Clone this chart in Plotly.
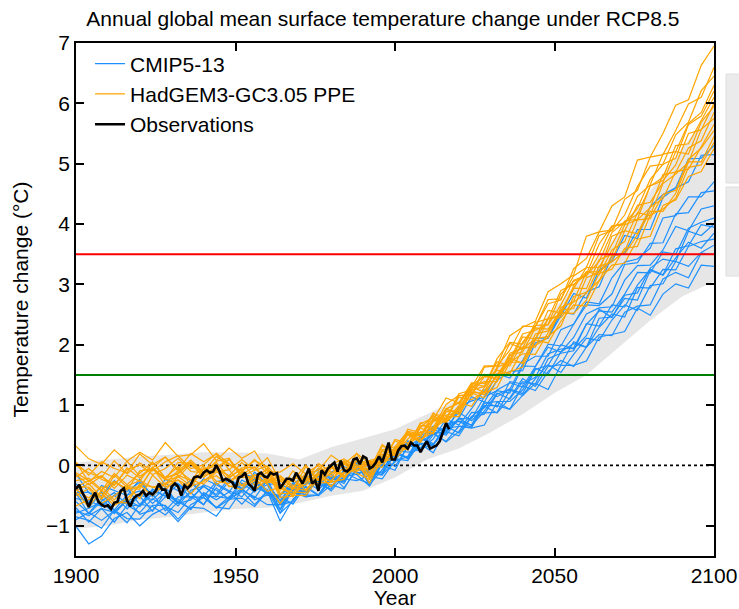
import plotly.graph_objects as go

# ---------------- data ----------------
ens_years = list(range(1900, 2101, 4))
obs_years = list(range(1900, 2018))
env_years = list(range(1900, 2101, 10))

cmip_runs = [
    [-0.38, -0.70, -0.44, -0.74, -0.49, -0.42, -0.63, -0.45, -0.63, -0.28, -0.50, -0.52, -0.26, -0.40, -0.27, -0.49, -0.49, -0.29, -0.43, -0.25, -0.36, -0.08, 0.01, -0.29, 0.16, 0.07, 0.15, 0.51, 0.55, 0.53, 0.97, 1.07, 1.13, 1.52, 1.45, 1.74, 2.11, 2.11, 2.48, 2.85, 2.77, 3.24, 3.38, 3.81, 3.76, 4.29, 4.49, 4.60, 5.08, 5.09, 5.30],
    [-0.90, -0.78, -0.91, -0.75, -0.95, -0.64, -0.68, -0.82, -0.60, -0.72, -0.47, -0.71, -0.56, -0.43, -0.65, -0.42, -0.79, -0.39, -0.49, -0.49, -0.20, -0.30, 0.05, -0.32, -0.07, 0.21, 0.12, 0.45, 0.65, 0.58, 0.78, 1.14, 1.05, 1.41, 1.56, 1.57, 2.03, 2.11, 2.54, 2.51, 2.88, 2.96, 3.47, 3.52, 3.91, 3.91, 4.44, 4.60, 4.70, 5.14, 5.15],
    [-0.30, -0.62, -0.33, -0.41, -0.50, -0.23, -0.52, -0.30, -0.42, -0.24, -0.51, -0.27, -0.22, -0.40, -0.11, -0.31, -0.58, -0.31, -0.15, -0.35, -0.11, -0.02, -0.12, -0.11, -0.11, 0.29, 0.35, 0.26, 0.44, 0.77, 0.67, 0.94, 1.25, 1.14, 1.26, 1.68, 1.81, 1.81, 2.25, 2.34, 2.71, 2.68, 3.11, 3.37, 3.42, 3.60, 4.10, 4.14, 4.45, 4.45, 4.70],
    [-0.79, -0.71, -0.60, -0.80, -0.57, -0.68, -0.47, -0.75, -0.52, -0.52, -0.65, -0.37, -0.57, -0.40, -0.54, -0.24, -0.65, -0.60, -0.30, -0.26, -0.42, -0.17, -0.15, -0.07, -0.13, 0.18, 0.37, 0.23, 0.64, 0.55, 0.78, 0.77, 1.14, 1.24, 1.20, 1.65, 1.64, 2.01, 1.98, 2.34, 2.66, 2.65, 2.84, 3.33, 3.36, 3.68, 3.69, 4.17, 4.19, 4.52, 4.55],
    [-0.14, -0.45, -0.51, -0.25, -0.43, -0.28, -0.51, -0.23, -0.30, -0.46, -0.22, -0.32, -0.44, -0.14, -0.19, -0.31, -0.31, -0.42, -0.25, -0.05, -0.23, -0.25, 0.11, -0.17, 0.13, -0.02, 0.31, 0.45, 0.34, 0.63, 0.88, 0.74, 0.96, 1.25, 1.37, 1.30, 1.64, 1.96, 1.88, 2.12, 2.51, 2.61, 2.63, 3.07, 3.31, 3.32, 3.57, 3.96, 3.89, 4.25, 4.30],
    [-1.01, -1.30, -1.17, -0.88, -0.78, -1.00, -0.81, -0.70, -0.93, -0.69, -0.71, -0.84, -0.56, -0.54, -0.68, -0.43, -0.92, -0.56, -0.36, -0.50, -0.32, -0.39, -0.03, -0.18, -0.22, 0.09, 0.39, 0.28, 0.34, 0.69, 0.74, 0.67, 1.06, 0.97, 1.39, 1.35, 1.46, 1.85, 1.93, 1.95, 2.34, 2.56, 2.54, 2.84, 3.20, 3.19, 3.54, 3.50, 3.93, 4.03, 4.10],
    [-0.60, -0.79, -0.54, -0.76, -0.59, -0.51, -0.76, -0.43, -0.60, -0.45, -0.65, -0.30, -0.42, -0.52, -0.27, -0.40, -0.72, -0.30, -0.46, -0.24, -0.14, -0.37, -0.07, -0.11, -0.15, 0.06, 0.41, 0.23, 0.51, 0.65, 0.54, 0.81, 0.85, 1.18, 1.27, 1.19, 1.59, 1.66, 2.00, 1.93, 2.15, 2.59, 2.45, 2.82, 2.86, 3.27, 3.42, 3.38, 3.88, 3.81, 4.00],
    [-0.45, -0.44, -0.64, -0.50, -0.38, -0.65, -0.39, -0.51, -0.31, -0.54, -0.35, -0.48, -0.21, -0.38, -0.22, -0.46, -0.50, -0.31, -0.45, -0.10, -0.27, -0.26, 0.07, -0.13, -0.16, 0.25, 0.22, 0.26, 0.60, 0.50, 0.78, 0.66, 0.90, 1.20, 1.10, 1.39, 1.35, 1.77, 1.86, 1.90, 2.35, 2.31, 2.66, 2.63, 2.99, 3.25, 3.16, 3.59, 3.64, 3.99, 3.95],
    [-0.70, -0.94, -0.71, -0.78, -0.56, -0.81, -0.74, -0.52, -0.56, -0.73, -0.45, -0.57, -0.44, -0.64, -0.41, -0.32, -0.79, -0.59, -0.25, -0.31, -0.39, -0.09, -0.15, -0.34, 0.05, 0.25, 0.11, 0.37, 0.34, 0.66, 0.73, 0.63, 1.03, 1.06, 1.06, 1.25, 1.61, 1.51, 1.88, 2.02, 1.96, 2.44, 2.46, 2.77, 2.74, 3.23, 3.15, 3.44, 3.70, 3.60, 3.85],
    [-0.55, -0.58, -0.68, -0.49, -0.72, -0.49, -0.57, -0.36, -0.63, -0.57, -0.32, -0.41, -0.56, -0.29, -0.44, -0.23, -0.74, -0.38, -0.27, -0.40, -0.21, -0.25, 0.09, -0.33, 0.10, 0.19, 0.14, 0.47, 0.36, 0.56, 0.49, 0.81, 0.98, 0.87, 1.12, 1.44, 1.31, 1.64, 1.67, 2.05, 1.96, 2.29, 2.51, 2.46, 2.95, 2.94, 3.25, 3.24, 3.63, 3.71, 3.75],
    [-0.85, -0.91, -1.04, -0.74, -0.88, -0.89, -0.66, -0.66, -0.89, -0.65, -0.53, -0.69, -0.72, -0.41, -0.52, -0.65, -0.65, -0.44, -0.52, -0.49, -0.17, -0.22, -0.25, -0.16, 0.00, -0.08, 0.33, 0.29, 0.54, 0.39, 0.56, 0.88, 0.87, 0.88, 1.25, 1.16, 1.44, 1.67, 1.54, 1.84, 2.11, 2.07, 2.41, 2.66, 2.57, 2.98, 3.01, 3.38, 3.30, 3.53, 3.65],
    [-0.75, -0.83, -0.71, -0.94, -0.66, -0.78, -0.55, -0.68, -0.78, -0.52, -0.53, -0.70, -0.52, -0.38, -0.57, -0.49, -0.52, -0.64, -0.34, -0.49, -0.25, -0.11, -0.22, -0.30, 0.10, 0.11, 0.08, 0.40, 0.52, 0.40, 0.65, 0.63, 0.99, 0.99, 0.93, 1.32, 1.24, 1.56, 1.74, 1.64, 1.96, 2.17, 2.15, 2.54, 2.64, 2.66, 3.09, 3.20, 3.11, 3.52, 3.50],
    [-0.46, -0.80, -0.59, -0.45, -0.65, -0.67, -0.42, -0.50, -0.67, -0.41, -0.34, -0.51, -0.55, -0.24, -0.36, -0.45, -0.62, -0.29, -0.52, -0.18, -0.19, -0.27, 0.04, -0.33, 0.02, 0.23, 0.12, 0.36, 0.21, 0.61, 0.65, 0.62, 0.67, 1.05, 0.93, 1.16, 1.36, 1.26, 1.66, 1.66, 1.73, 2.13, 2.17, 2.22, 2.61, 2.49, 2.84, 3.01, 2.94, 3.32, 3.30],
]

ppe_runs = [
    [-0.42, -0.30, -0.53, -0.16, -0.36, -0.36, -0.06, -0.20, -0.02, -0.33, -0.06, -0.01, -0.26, -0.11, -0.26, -0.04, -0.46, -0.47, -0.17, -0.24, -0.01, -0.18, -0.04, 0.01, -0.03, 0.31, 0.57, 0.51, 0.76, 1.12, 1.04, 1.30, 1.65, 1.65, 2.15, 2.29, 2.39, 2.88, 3.01, 3.16, 3.80, 3.87, 4.30, 4.45, 5.06, 5.11, 5.50, 5.97, 6.06, 6.63, 6.95],
    [0.05, -0.27, -0.10, -0.20, 0.07, -0.18, -0.04, 0.14, -0.09, 0.09, -0.11, 0.15, 0.01, -0.10, 0.10, -0.14, -0.19, -0.38, -0.13, 0.00, -0.19, 0.04, -0.09, 0.03, 0.19, 0.17, 0.60, 0.54, 0.63, 1.01, 1.16, 1.15, 1.63, 1.65, 1.91, 2.31, 2.30, 2.68, 2.74, 3.26, 3.43, 3.87, 3.90, 4.41, 4.56, 5.11, 5.15, 5.55, 5.99, 6.10, 6.60],
    [-0.50, -0.38, -0.63, -0.50, -0.34, -0.55, -0.16, -0.36, -0.24, -0.36, -0.04, -0.26, -0.30, -0.10, -0.41, -0.23, -0.38, -0.44, -0.45, -0.13, -0.27, -0.23, 0.09, -0.17, 0.24, 0.10, 0.35, 0.69, 0.79, 0.76, 1.19, 1.25, 1.31, 1.77, 2.04, 2.01, 2.30, 2.75, 2.76, 3.14, 3.28, 3.81, 3.89, 4.15, 4.62, 4.96, 4.99, 5.48, 5.69, 6.21, 6.45],
    [0.32, 0.11, 0.02, 0.26, 0.07, 0.22, 0.09, 0.38, 0.15, 0.18, 0.36, 0.08, 0.29, 0.12, 0.24, -0.10, -0.11, 0.03, -0.14, -0.08, 0.17, 0.02, 0.20, -0.13, 0.32, 0.25, 0.32, 0.71, 0.57, 0.94, 1.03, 1.37, 1.36, 1.60, 2.02, 1.94, 2.37, 2.43, 2.90, 3.00, 3.17, 3.67, 3.97, 3.99, 4.46, 4.65, 5.16, 5.20, 5.67, 5.85, 6.30],
    [-0.36, -0.25, -0.17, -0.38, -0.16, -0.26, 0.05, -0.21, -0.14, 0.05, -0.14, -0.03, 0.10, -0.20, -0.17, -0.07, -0.49, -0.20, -0.23, -0.33, -0.05, 0.07, -0.08, -0.05, 0.05, 0.43, 0.37, 0.47, 0.84, 0.83, 0.89, 1.34, 1.47, 1.51, 1.75, 2.18, 2.24, 2.34, 2.84, 3.05, 3.14, 3.50, 3.96, 4.02, 4.26, 4.74, 4.99, 5.09, 5.65, 5.79, 6.20],
    [-0.44, -0.69, -0.41, -0.61, -0.62, -0.30, -0.36, -0.41, -0.18, -0.34, -0.27, -0.08, -0.35, -0.32, -0.20, -0.43, -0.36, -0.49, -0.50, -0.21, -0.25, -0.03, -0.13, -0.23, 0.26, 0.23, 0.28, 0.63, 0.82, 0.73, 0.99, 1.36, 1.31, 1.72, 1.65, 2.04, 2.32, 2.33, 2.66, 3.07, 3.15, 3.38, 3.86, 4.04, 4.16, 4.63, 4.77, 5.30, 5.33, 5.71, 6.10],
    [-0.19, -0.05, -0.23, -0.32, -0.07, 0.01, -0.15, -0.05, 0.12, -0.10, -0.12, 0.07, 0.12, -0.18, -0.08, -0.01, -0.26, -0.40, -0.02, -0.25, -0.14, 0.06, -0.04, 0.08, 0.14, 0.17, 0.52, 0.49, 0.87, 0.72, 0.96, 1.26, 1.51, 1.42, 1.86, 1.94, 2.09, 2.57, 2.53, 2.93, 3.28, 3.28, 3.66, 4.05, 4.08, 4.63, 4.72, 4.98, 5.50, 5.56, 6.00],
    [-0.35, -0.36, -0.56, -0.28, -0.38, -0.39, -0.03, -0.33, -0.16, -0.25, 0.00, -0.32, -0.19, -0.06, -0.33, -0.21, -0.31, -0.52, -0.20, -0.29, -0.28, 0.08, 0.01, -0.20, 0.26, 0.31, 0.26, 0.66, 0.63, 0.75, 1.16, 1.18, 1.47, 1.45, 1.71, 2.13, 2.10, 2.43, 2.49, 2.98, 3.21, 3.21, 3.80, 3.89, 4.31, 4.36, 4.69, 5.20, 5.16, 5.69, 5.95],
    [0.05, -0.16, 0.06, -0.05, -0.12, 0.19, 0.01, 0.14, -0.07, 0.20, 0.06, 0.19, -0.07, 0.10, -0.08, 0.13, -0.26, -0.26, 0.01, -0.24, 0.02, 0.11, -0.02, -0.07, 0.35, 0.18, 0.44, 0.62, 0.52, 0.89, 0.90, 1.30, 1.39, 1.39, 1.83, 1.88, 2.28, 2.26, 2.56, 2.94, 2.93, 3.41, 3.50, 3.99, 4.07, 4.27, 4.82, 4.86, 5.26, 5.38, 5.85],
    [-0.25, -0.21, -0.40, -0.26, -0.41, -0.09, -0.06, -0.24, -0.20, 0.03, -0.20, -0.05, -0.17, 0.05, -0.20, -0.29, -0.24, -0.23, -0.41, -0.23, -0.03, -0.20, 0.09, 0.03, 0.06, 0.12, 0.54, 0.50, 0.77, 0.71, 0.92, 1.31, 1.21, 1.49, 1.82, 1.96, 1.96, 2.44, 2.45, 2.72, 3.21, 3.16, 3.57, 3.71, 4.19, 4.14, 4.67, 4.83, 5.02, 5.57, 5.75],
    [-0.15, -0.32, -0.18, -0.33, -0.04, -0.21, -0.03, -0.23, 0.05, 0.03, -0.17, -0.06, 0.10, -0.15, -0.02, -0.26, -0.17, -0.33, -0.29, -0.04, -0.14, 0.02, -0.10, 0.07, 0.05, 0.21, 0.51, 0.40, 0.74, 0.78, 1.13, 1.09, 1.22, 1.63, 1.71, 1.71, 2.18, 2.23, 2.58, 2.60, 3.11, 3.20, 3.40, 3.89, 3.84, 4.28, 4.42, 4.87, 4.91, 5.27, 5.65],
    [-0.40, -0.54, -0.35, -0.57, -0.34, -0.25, -0.36, -0.31, -0.08, -0.24, -0.31, -0.11, -0.07, -0.34, -0.25, -0.11, -0.53, -0.51, -0.26, -0.15, -0.34, -0.14, 0.13, -0.21, 0.06, 0.41, 0.31, 0.56, 0.54, 0.93, 1.04, 0.98, 1.29, 1.58, 1.52, 1.93, 1.99, 2.12, 2.62, 2.71, 2.85, 3.30, 3.37, 3.55, 4.07, 4.09, 4.49, 4.56, 5.07, 5.26, 5.55],
    [0.00, -0.12, -0.20, 0.08, -0.14, 0.04, -0.09, 0.06, 0.16, -0.05, 0.01, 0.20, 0.03, -0.09, 0.08, -0.02, -0.41, -0.09, -0.24, 0.03, -0.11, -0.13, 0.20, 0.03, 0.04, 0.28, 0.56, 0.44, 0.54, 0.90, 0.91, 1.20, 1.12, 1.40, 1.78, 1.69, 2.10, 2.14, 2.31, 2.80, 2.87, 3.06, 3.48, 3.50, 3.82, 4.21, 4.21, 4.51, 5.03, 5.03, 5.45],
    [-0.67, -0.56, -0.46, -0.66, -0.55, -0.33, -0.50, -0.29, -0.24, -0.47, -0.24, -0.17, -0.34, -0.40, -0.15, -0.31, -0.63, -0.38, -0.41, -0.16, -0.35, -0.11, 0.08, -0.30, 0.17, 0.26, 0.53, 0.41, 0.61, 0.94, 0.85, 1.21, 1.20, 1.29, 1.71, 1.85, 1.84, 2.20, 2.53, 2.52, 2.74, 3.18, 3.25, 3.60, 3.63, 4.15, 4.25, 4.43, 4.94, 4.98, 5.35],
    [-0.12, -0.25, -0.42, -0.13, -0.32, -0.13, 0.06, -0.21, -0.12, 0.06, -0.13, 0.05, -0.21, -0.04, -0.03, -0.28, -0.20, -0.36, -0.33, -0.11, 0.00, -0.21, 0.07, 0.05, 0.06, 0.23, 0.51, 0.38, 0.73, 0.81, 0.81, 1.24, 1.17, 1.51, 1.55, 1.63, 2.08, 2.03, 2.39, 2.66, 2.64, 3.06, 3.32, 3.35, 3.75, 3.80, 4.31, 4.40, 4.79, 4.87, 5.25],
]

obs_values = [
    -0.39, -0.32, -0.45, -0.55, -0.69, -0.55, -0.45, -0.60, -0.65, -0.68,
    -0.66, -0.72, -0.62, -0.60, -0.42, -0.38, -0.58, -0.68, -0.55, -0.50,
    -0.48, -0.42, -0.50, -0.45, -0.48, -0.42, -0.30, -0.40, -0.40, -0.55,
    -0.35, -0.30, -0.35, -0.50, -0.33, -0.38, -0.32, -0.20, -0.18, -0.20,
    -0.12, -0.08, -0.12, -0.10, 0.00, -0.10, -0.25, -0.22, -0.25, -0.28,
    -0.38, -0.20, -0.18, -0.12, -0.30, -0.35, -0.42, -0.15, -0.12, -0.18,
    -0.20, -0.12, -0.15, -0.13, -0.38, -0.30, -0.22, -0.22, -0.25, -0.12,
    -0.20, -0.30, -0.18, -0.05, -0.30, -0.25, -0.42, -0.08, -0.15, -0.05,
    0.00, 0.05, -0.10, 0.08, -0.08, -0.10, -0.05, 0.10, 0.12, 0.02,
    0.15, 0.12, -0.05, -0.02, 0.05, 0.15, 0.05, 0.20, 0.38, 0.10,
    0.10, 0.25, 0.32, 0.33, 0.28, 0.38, 0.33, 0.33, 0.22, 0.32,
    0.40, 0.28, 0.30, 0.33, 0.40, 0.55, 0.70, 0.60,
]

env_lower = [-1.05, -1.00, -0.90, -0.85, -0.78, -0.72, -0.70, -0.62, -0.50, -0.42, -0.20,
             0.10, 0.28, 0.55, 0.85, 1.20, 1.50, 1.95, 2.40, 2.80, 3.05]
env_upper = [0.05, 0.10, 0.15, 0.18, 0.22, 0.22, 0.20, 0.10, 0.30, 0.45, 0.60,
             0.85, 1.10, 1.55, 2.05, 2.60, 3.20, 3.85, 4.55, 5.25, 5.95]

zero_level = 0.0
threshold_green = 1.5
threshold_red = 3.5
x_span = [1900, 2100]
x_ticks = [1900, 1950, 2000, 2050, 2100]
y_ticks = [-1, 0, 1, 2, 3, 4, 5, 6, 7]

# ---------------- figure ----------------
FONT = "Liberation Sans, Arial, sans-serif"
FS = 21
BLUE = "#1e90ff"
ORANGE = "#ffa500"
GREY = "#e6e6e6"

fig = go.Figure()

fig.add_trace(go.Scatter(x=env_years, y=env_lower, mode="lines", line=dict(width=0, color=GREY),
                         showlegend=False, hoverinfo="skip"))
fig.add_trace(go.Scatter(x=env_years, y=env_upper, mode="lines", line=dict(width=0, color=GREY),
                         fill="tonexty", fillcolor=GREY, showlegend=False, hoverinfo="skip"))

fig.add_trace(go.Scatter(x=x_span, y=[zero_level, zero_level], mode="lines",
                         line=dict(color="black", width=1.8, dash="dot"), showlegend=False))

for k, run in enumerate(cmip_runs):
    fig.add_trace(go.Scatter(x=ens_years, y=run, mode="lines", line=dict(color=BLUE, width=1.2),
                             name="CMIP5-13", legendgroup="cmip", showlegend=(k == 0)))
for k, run in enumerate(ppe_runs):
    fig.add_trace(go.Scatter(x=ens_years, y=run, mode="lines", line=dict(color=ORANGE, width=1.2),
                             name="HadGEM3-GC3.05 PPE", legendgroup="ppe", showlegend=(k == 0)))

fig.add_trace(go.Scatter(x=x_span, y=[threshold_green] * 2, mode="lines",
                         line=dict(color="#008000", width=2), showlegend=False))
fig.add_trace(go.Scatter(x=x_span, y=[threshold_red] * 2, mode="lines",
                         line=dict(color="#ff0000", width=2), showlegend=False))

fig.add_trace(go.Scatter(x=obs_years, y=obs_values, mode="lines", line=dict(color="black", width=2.6),
                         name="Observations", legendgroup="obs"))

# partial grey panels on the right edge (outside the axes)
for (y0, y1) in [(0.7271, 0.9396), (0.5458, 0.7193)]:
    fig.add_shape(type="rect", xref="paper", yref="paper", x0=1.0188, x1=1.06, y0=y0, y1=y1,
                  fillcolor="#ebebeb", line=dict(color="#dedede", width=1), layer="above")

axis_common = dict(showgrid=False, zeroline=False, showline=True, linecolor="black", linewidth=1.5,
                   mirror="ticks", ticks="inside", ticklen=8, tickwidth=1.5, tickcolor="black",
                   automargin=False, tickfont=dict(family=FONT, size=FS, color="black"))

fig.update_layout(
    width=739, height=609,
    margin=dict(l=76, r=25, t=43, b=53),
    paper_bgcolor="white", plot_bgcolor="white",
    font=dict(family=FONT, size=FS, color="black"),
    title=dict(text="Annual global mean surface temperature change under RCP8.5",
               font=dict(family=FONT, size=FS, color="black"),
               xref="paper", x=0.481, xanchor="center", yref="container", y=0.970, yanchor="middle"),
    legend=dict(x=0.022, y=0.999, xanchor="left", yanchor="top", bgcolor="rgba(0,0,0,0)",
                font=dict(family=FONT, size=FS, color="black"), tracegroupgap=0),
    showlegend=True,
)
fig.update_xaxes(range=x_span, tickvals=x_ticks, title=dict(text="Year", standoff=2,
                 font=dict(family=FONT, size=FS)), **axis_common)
fig.update_yaxes(range=[-1.5, 7], tickvals=y_ticks, title=dict(text="Temperature change (°C)", standoff=12,
                 font=dict(family=FONT, size=FS)), **axis_common)

fig.write_html("out.html")
